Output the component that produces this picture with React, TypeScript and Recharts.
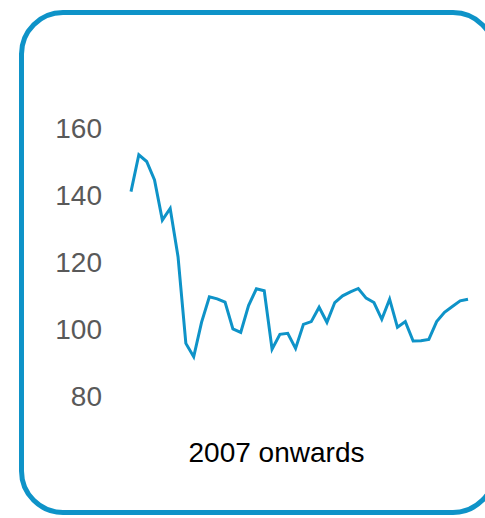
import { LineChart, Line, XAxis, YAxis } from 'recharts';

// quarterly index, 2007 Q1 onwards
const quarters = [
  '2007Q1', '2007Q2', '2007Q3', '2007Q4', '2008Q1', '2008Q2', '2008Q3', '2008Q4',
  '2009Q1', '2009Q2', '2009Q3', '2009Q4', '2010Q1', '2010Q2', '2010Q3', '2010Q4',
  '2011Q1', '2011Q2', '2011Q3', '2011Q4', '2012Q1', '2012Q2', '2012Q3', '2012Q4',
  '2013Q1', '2013Q2', '2013Q3', '2013Q4', '2014Q1', '2014Q2', '2014Q3', '2014Q4',
  '2015Q1', '2015Q2', '2015Q3', '2015Q4', '2016Q1', '2016Q2', '2016Q3', '2016Q4',
  '2017Q1', '2017Q2', '2017Q3', '2017Q4',
];

const values = [
  141, 152, 150, 144.5, 132.5, 136, 121.6, 95.7,
  91.7, 102, 109.6, 109, 108, 100, 99, 107,
  112, 111.4, 94, 98.4, 98.7, 94.2, 101.4, 102.2,
  106.5, 102, 107.9, 109.9, 111.1, 112.1, 109.2, 107.9,
  102.9, 108.9, 100.5, 102.2, 96.4, 96.5, 96.9, 102.2,
  105, 106.7, 108.4, 108.9,
];

const yTicks = [80, 100, 120, 140, 160];

const data = quarters.map((q, i) => ({ quarter: q, value: values[i] }));

const BLUE = '#0e93c8';

export default function App() {
  return (
    <div
      style={{
        position: 'fixed',
        left: 0,
        top: 0,
        width: 485,
        height: 518,
        overflow: 'hidden',
        background: '#fff',
        fontFamily: '"Liberation Sans", Arial, sans-serif',
      }}
    >
      <div
        style={{
          position: 'absolute',
          left: 18.5,
          top: 9.5,
          width: 468.5,
          height: 495.5,
          border: `5px solid ${BLUE}`,
          borderRadius: 44,
        }}
      />
      <div style={{ position: 'absolute', left: 0, top: 0 }}>
        <LineChart width={485} height={518} data={data} margin={{ top: 128, right: 17, bottom: 122, left: 0 }}>
          <XAxis dataKey="quarter" hide />
          <YAxis
            width={131}
            domain={[80, 160]}
            ticks={yTicks}
            axisLine={false}
            tickLine={false}
            tickSize={0}
            tickMargin={29}
            tick={{ fill: '#595959', fontSize: 28, fontFamily: '"Liberation Sans", Arial, sans-serif' }}
          />
          <Line
            type="linear"
            dataKey="value"
            stroke={BLUE}
            strokeWidth={3}
            dot={false}
            isAnimationActive={false}
          />
        </LineChart>
      </div>
      <div
        style={{
          position: 'absolute',
          left: 0,
          width: 553,
          top: 437,
          textAlign: 'center',
          fontSize: 28,
          color: '#000',
          lineHeight: '32px',
        }}
      >
        2007 onwards
      </div>
    </div>
  );
}
